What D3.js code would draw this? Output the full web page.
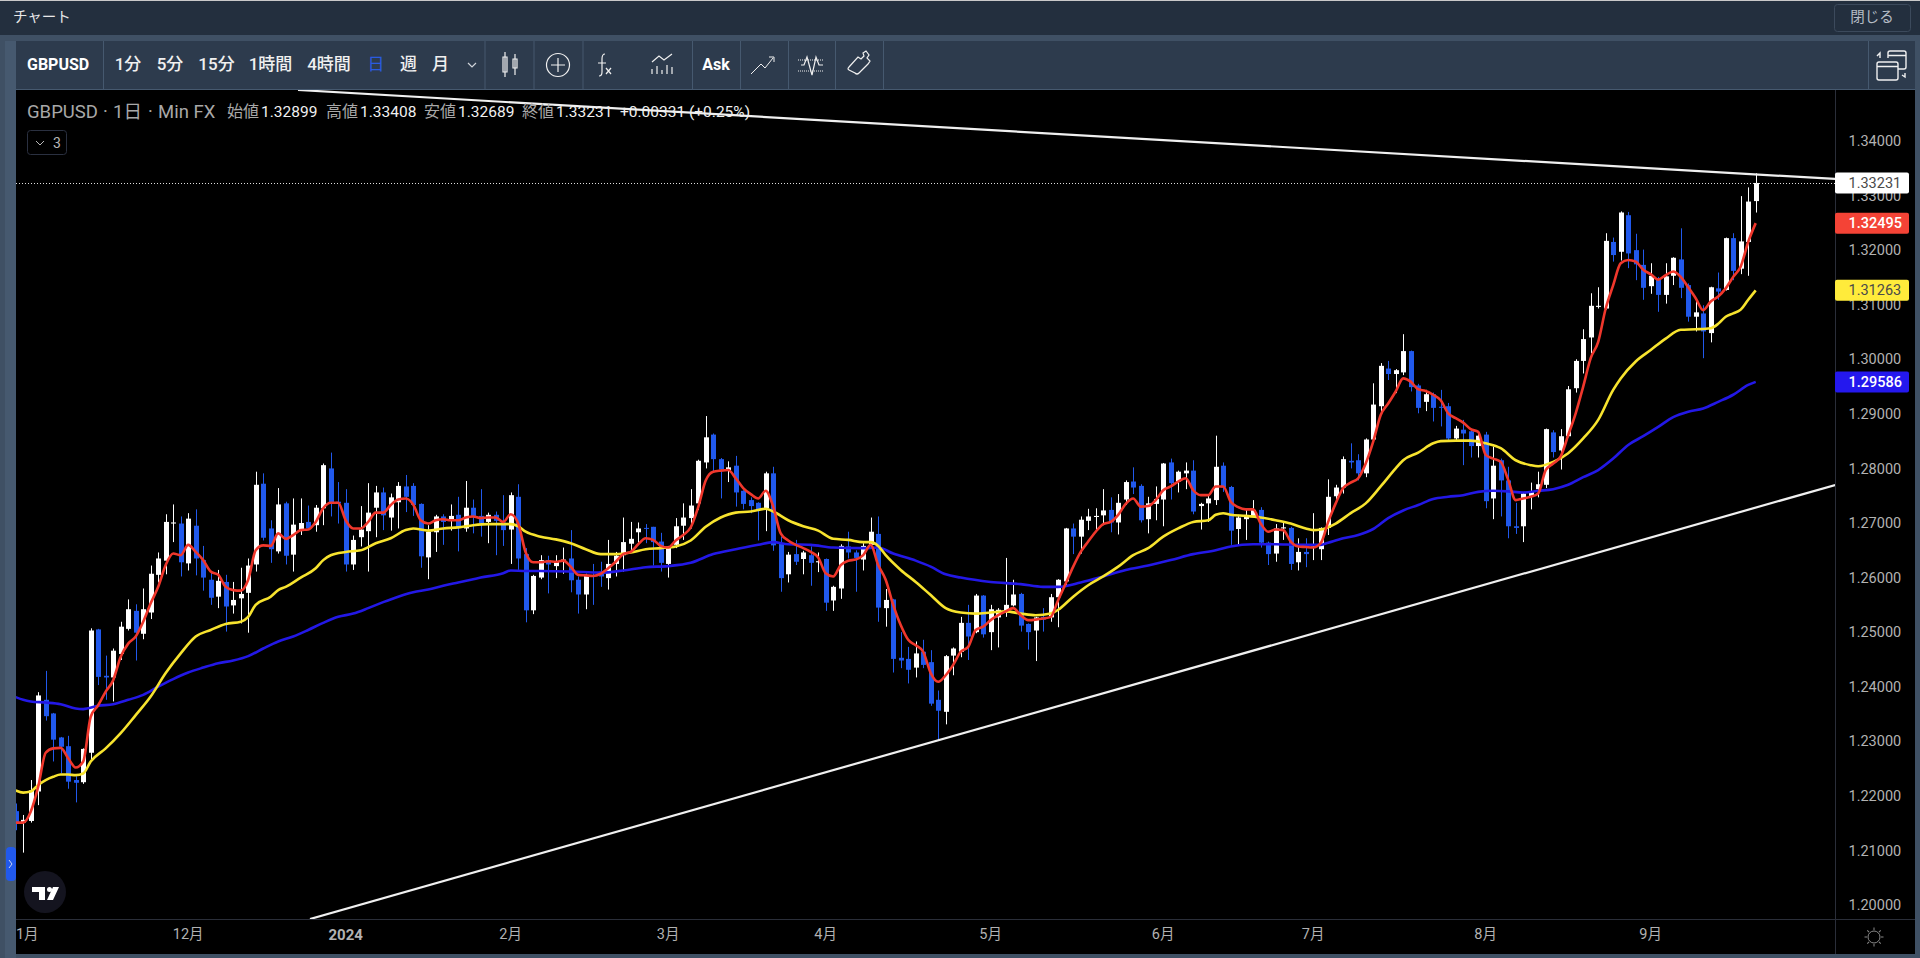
<!DOCTYPE html>
<html>
<head>
<meta charset="utf-8">
<title>GBPUSD</title>
<script src="https://cdn.jsdelivr.net/npm/d3@7"></script>
<style>
html, body { margin: 0; padding: 0; background: #232f3e; overflow: hidden; }
svg { display: block; }
text { font-family: Roboto, "Noto Sans CJK JP", sans-serif; }
</style>
</head>
<body>
<div id="viz"></div>
<script>
// candles, oldest first
var opens = [
1.2172,1.2151,1.2154,1.2208,1.2376,1.2351,1.2307,1.2291,1.2229,1.2225,
1.2279,1.2505,1.2420,1.2417,1.2460,1.2506,1.2539,1.2497,1.2536,1.2605,
1.2631,1.2699,1.2699,1.2626,1.2695,1.2632,1.2596,1.2565,1.2592,1.2549,
1.2562,1.2572,1.2624,1.2772,1.2690,1.2648,1.2736,1.2642,1.2687,1.2702,
1.2696,1.2727,1.2800,1.2739,1.2737,1.2624,1.2674,1.2685,1.2728,1.2756,
1.2710,1.2738,1.2767,1.2768,1.2735,1.2637,1.2683,1.2712,1.2706,1.2715,
1.2690,1.2728,1.2713,1.2702,1.2715,1.2701,1.2688,1.2748,1.2643,1.2540,
1.2600,1.2632,1.2621,1.2630,1.2635,1.2596,1.2569,1.2605,1.2611,1.2599,
1.2625,1.2641,1.2662,1.2683,1.2691,1.2693,1.2666,1.2625,1.2660,1.2695,
1.2709,1.2736,1.2811,1.2862,1.2817,1.2797,1.2805,1.2759,1.2742,1.2737,
1.2727,1.2791,1.2663,1.2606,1.2643,1.2634,1.2641,1.2628,1.2634,1.2558,
1.2580,1.2657,1.2646,1.2633,1.2660,1.2680,1.2544,1.2560,1.2453,1.2451,
1.2435,1.2464,1.2445,1.2376,1.2354,1.2457,1.2464,1.2517,1.2500,1.2567,
1.2500,1.2527,1.2536,1.2549,1.2570,1.2515,1.2503,1.2528,1.2527,1.2564,
1.2593,1.2690,1.2675,1.2704,1.2711,1.2714,1.2724,1.2701,1.2743,1.2776,
1.2768,1.2707,1.2735,1.2743,1.2811,1.2776,1.2791,1.2796,1.2731,1.2736,
1.2742,1.2805,1.2766,1.2689,1.2707,1.2713,1.2724,1.2664,1.2644,1.2690,
1.2691,1.2628,1.2647,1.2657,1.2652,1.2691,1.2749,1.2765,1.2814,1.2815,
1.2791,1.2853,1.2914,1.2983,1.2973,1.2976,1.3015,1.2952,1.2922,1.2936,
1.2913,1.2914,1.2855,1.2871,1.2868,1.2841,1.2862,1.2745,1.2815,1.2778,
1.2694,1.2694,1.2749,1.2762,1.2770,1.2866,1.2833,1.2859,1.2947,1.2997,
1.3040,1.3096,1.3093,1.3215,1.3197,1.3264,1.3200,1.3173,1.3134,1.3148,
1.3118,1.3153,1.3183,1.3136,1.3078,1.3084,1.3048,1.3130,1.3127,1.3222,
1.3166,1.3215,1.32899];
var highs = [
1.2186,1.2165,1.2229,1.2390,1.2429,1.2352,1.2308,1.2310,1.2236,1.2287,
1.2507,1.2506,1.2457,1.2470,1.2519,1.2560,1.2551,1.2580,1.2622,1.2646,
1.2716,1.2734,1.2712,1.2718,1.2725,1.2658,1.2611,1.2614,1.2605,1.2592,
1.2618,1.2635,1.2794,1.2791,1.2705,1.2764,1.2739,1.2745,1.2745,1.2732,
1.2733,1.2809,1.2829,1.2775,1.2762,1.2677,1.2731,1.2773,1.2768,1.2765,
1.2754,1.2775,1.2788,1.2773,1.2736,1.2696,1.2715,1.2716,1.2734,1.2748,
1.2777,1.2743,1.2762,1.2719,1.2721,1.2751,1.2756,1.2771,1.2654,1.2605,
1.2641,1.2640,1.2641,1.2655,1.2687,1.2602,1.2607,1.2625,1.2629,1.2669,
1.2647,1.2710,1.2702,1.2701,1.2698,1.2693,1.2682,1.2658,1.2709,1.2736,
1.2762,1.2816,1.2896,1.2864,1.2819,1.2813,1.2823,1.2760,1.2747,1.2738,
1.2794,1.2803,1.2675,1.2647,1.2669,1.2649,1.2657,1.2646,1.2635,1.2585,
1.2661,1.2684,1.2650,1.2663,1.2710,1.2712,1.2579,1.2561,1.2500,1.2473,
1.2483,1.2486,1.2467,1.2393,1.2458,1.2472,1.2528,1.2550,1.2570,1.2568,
1.2550,1.2544,1.2636,1.2596,1.2572,1.2516,1.2528,1.2544,1.2570,1.2597,
1.2691,1.2699,1.2712,1.2726,1.2727,1.2762,1.2747,1.2753,1.2778,1.2802,
1.2771,1.2748,1.2767,1.2810,1.2818,1.2796,1.2811,1.2815,1.2737,1.2753,
1.2860,1.2811,1.2768,1.2715,1.2727,1.2742,1.2729,1.2666,1.2698,1.2702,
1.2693,1.2672,1.2672,1.2718,1.2692,1.2780,1.2770,1.2822,1.2846,1.2826,
1.2855,1.2956,1.2993,1.2997,1.2982,1.3046,1.3016,1.2955,1.2944,1.2939,
1.2944,1.2920,1.2878,1.2889,1.2870,1.2867,1.2867,1.2840,1.2818,1.2803,
1.2737,1.2756,1.2774,1.2794,1.2873,1.2870,1.2872,1.2951,1.3000,1.3055,
1.3121,1.3132,1.3231,1.3223,1.3271,1.3270,1.3230,1.3201,1.3176,1.3151,
1.3176,1.3187,1.3240,1.3139,1.3112,1.3099,1.3133,1.3159,1.3223,1.3231,
1.3299,1.3315,1.33408];
var lows = [
1.2137,1.2096,1.2151,1.2183,1.2338,1.2263,1.2241,1.2213,1.2188,1.2222,
1.2263,1.2403,1.2376,1.2373,1.2449,1.2503,1.2448,1.2487,1.2524,1.2591,
1.2606,1.2665,1.2602,1.2613,1.2604,1.2576,1.2550,1.2544,1.2501,1.2534,
1.2516,1.2499,1.2611,1.2668,1.2627,1.2644,1.2624,1.2611,1.2678,1.2687,
1.2684,1.2696,1.2712,1.2699,1.2611,1.2614,1.2657,1.2611,1.2674,1.2687,
1.2686,1.2690,1.2720,1.2713,1.2618,1.2597,1.2647,1.2660,1.2686,1.2648,
1.2684,1.2681,1.2675,1.2663,1.2641,1.2658,1.2625,1.2614,1.2518,1.2533,
1.2597,1.2571,1.2599,1.2607,1.2573,1.2534,1.2542,1.2550,1.2583,1.2578,
1.2602,1.2611,1.2646,1.2664,1.2663,1.2622,1.2611,1.2600,1.2654,1.2669,
1.2690,1.2724,1.2800,1.2794,1.2745,1.2775,1.2730,1.2725,1.2718,1.2668,
1.2685,1.2649,1.2574,1.2591,1.2623,1.2606,1.2585,1.2610,1.2539,1.2539,
1.2561,1.2635,1.2574,1.2613,1.2658,1.2519,1.2510,1.2426,1.2434,1.2406,
1.2417,1.2434,1.2365,1.2302,1.2331,1.2421,1.2454,1.2449,1.2498,1.2490,
1.2467,1.2472,1.2528,1.2547,1.2501,1.2468,1.2447,1.2501,1.2519,1.2509,
1.2585,1.2643,1.2644,1.2687,1.2687,1.2696,1.2683,1.2679,1.2733,1.2753,
1.2701,1.2681,1.2705,1.2694,1.2743,1.2756,1.2762,1.2716,1.2688,1.2702,
1.2733,1.2757,1.2660,1.2658,1.2669,1.2712,1.2655,1.2623,1.2629,1.2669,
1.2614,1.2613,1.2619,1.2632,1.2632,1.2678,1.2742,1.2754,1.2800,1.2778,
1.2784,1.2852,1.2901,1.2962,1.2938,1.2971,1.2941,1.2901,1.2905,1.2886,
1.2877,1.2849,1.2851,1.2806,1.2820,1.2820,1.2727,1.2707,1.2712,1.2672,
1.2680,1.2665,1.2725,1.2747,1.2764,1.2820,1.2798,1.2857,1.2939,1.2974,
1.3011,1.3093,1.3091,1.3179,1.3181,1.3167,1.3145,1.3109,1.3120,1.3087,
1.3102,1.3136,1.3112,1.3069,1.3051,1.3002,1.3031,1.3109,1.3126,1.3145,
1.3156,1.3153,1.32689];
var closes = [
1.2151,1.2156,1.2210,1.2384,1.2346,1.2303,1.2290,1.2226,1.2224,1.2286,
1.2503,1.2418,1.2417,1.2466,1.2510,1.2542,1.2499,1.2542,1.2607,1.2635,
1.2702,1.2701,1.2628,1.2708,1.2635,1.2600,1.2563,1.2594,1.2547,1.2559,
1.2570,1.2622,1.2770,1.2673,1.2652,1.2734,1.2640,1.2697,1.2700,1.2690,
1.2728,1.2806,1.2735,1.2736,1.2624,1.2669,1.2688,1.2719,1.2756,1.2714,
1.2747,1.2768,1.2748,1.2733,1.2639,1.2684,1.2712,1.2702,1.2713,1.2692,
1.2728,1.2713,1.2699,1.2715,1.2704,1.2687,1.2751,1.2635,1.2540,1.2603,
1.2632,1.2624,1.2630,1.2633,1.2595,1.2569,1.2604,1.2603,1.2602,1.2625,
1.2640,1.2665,1.2671,1.2690,1.2690,1.2665,1.2627,1.2654,1.2694,1.2710,
1.2732,1.2814,1.2857,1.2817,1.2798,1.2802,1.2756,1.2735,1.2731,1.2725,
1.2791,1.2659,1.2599,1.2642,1.2629,1.2646,1.2627,1.2630,1.2554,1.2583,
1.2658,1.2646,1.2636,1.2658,1.2684,1.2545,1.2559,1.2451,1.2448,1.2431,
1.2461,1.2440,1.2369,1.2356,1.2456,1.2470,1.2517,1.2492,1.2567,1.2496,
1.2542,1.2541,1.2550,1.2569,1.2512,1.2500,1.2527,1.2523,1.2564,1.2596,
1.2690,1.2675,1.2706,1.2712,1.2713,1.2723,1.2701,1.2737,1.2775,1.2765,
1.2705,1.2736,1.2744,1.2809,1.2773,1.2794,1.2796,1.2721,1.2735,1.2745,
1.2803,1.2765,1.2686,1.2710,1.2714,1.2724,1.2664,1.2643,1.2690,1.2692,
1.2625,1.2647,1.2643,1.2661,1.2691,1.2748,1.2765,1.2817,1.2811,1.2791,
1.2853,1.2917,1.2988,1.2973,1.2980,1.3015,1.2949,1.2911,1.2936,1.2911,
1.2911,1.2855,1.2873,1.2864,1.2841,1.2860,1.2740,1.2805,1.2778,1.2694,
1.2691,1.2754,1.2757,1.2771,1.2872,1.2830,1.2859,1.2945,1.2997,1.3037,
1.3098,1.3098,1.3217,1.3191,1.3269,1.3194,1.3174,1.3131,1.3153,1.3118,
1.3152,1.3186,1.3131,1.3078,1.3086,1.3051,1.3132,1.3124,1.3222,1.3162,
1.3216,1.3289,1.33231];

// red short average, one reading per candle
var redMA = [
1.2151,1.2151,1.2171,1.2217,1.2279,1.2287,1.2288,1.2269,1.2252,1.2263,
1.2345,1.2366,1.2391,1.2412,1.2455,1.2479,1.2492,1.2519,1.2553,1.2583,
1.2623,1.2644,1.2641,1.2660,1.2647,1.2632,1.2611,1.2605,1.2583,1.2577,
1.2576,1.2596,1.2650,1.2659,1.2658,1.2681,1.2671,1.2678,1.2687,1.2688,
1.2702,1.2727,1.2737,1.2737,1.2705,1.2690,1.2690,1.2702,1.2719,1.2719,
1.2733,1.2743,1.2745,1.2734,1.2705,1.2699,1.2705,1.2707,1.2705,1.2705,
1.2710,1.2712,1.2709,1.2710,1.2710,1.2702,1.2716,1.2699,1.2646,1.2628,
1.2628,1.2630,1.2629,1.2631,1.2620,1.2605,1.2604,1.2603,1.2607,1.2617,
1.2629,1.2643,1.2647,1.2661,1.2672,1.2669,1.2658,1.2655,1.2668,1.2678,
1.2692,1.2729,1.2778,1.2794,1.2796,1.2797,1.2782,1.2764,1.2753,1.2745,
1.2759,1.2730,1.2681,1.2668,1.2660,1.2654,1.2647,1.2637,1.2608,1.2602,
1.2623,1.2631,1.2633,1.2641,1.2660,1.2623,1.2596,1.2550,1.2513,1.2486,
1.2476,1.2464,1.2425,1.2409,1.2421,1.2440,1.2464,1.2473,1.2504,1.2510,
1.2522,1.2531,1.2538,1.2544,1.2531,1.2522,1.2523,1.2525,1.2528,1.2559,
1.2589,1.2620,1.2647,1.2666,1.2684,1.2698,1.2702,1.2715,1.2735,1.2745,
1.2730,1.2731,1.2742,1.2760,1.2767,1.2776,1.2782,1.2760,1.2751,1.2751,
1.2767,1.2767,1.2739,1.2729,1.2725,1.2725,1.2699,1.2684,1.2688,1.2687,
1.2666,1.2657,1.2656,1.2655,1.2663,1.2702,1.2736,1.2764,1.2774,1.2782,
1.2809,1.2849,1.2898,1.2919,1.2941,1.2965,1.2959,1.2945,1.2942,1.2935,
1.2925,1.2901,1.2892,1.2884,1.2872,1.2867,1.2825,1.2818,1.2812,1.2779,
1.2742,1.2745,1.2748,1.2754,1.2797,1.2809,1.2822,1.2861,1.2901,1.2950,
1.3002,1.3032,1.3093,1.3136,1.3176,1.3182,1.3179,1.3164,1.3156,1.3146,
1.3154,1.3161,1.3151,1.3132,1.3112,1.3090,1.3106,1.3115,1.3130,1.3151,
1.3170,1.3215,1.32495];

// yellow and blue averages, read at the candles listed
var yellowIdx = [0,1,2,3,4,5,6,7,8,9,10,12,14,16,18,20,22,24,26,28,30,31,32,34,35,36,38,40,41,42,44,46,48,50,52,53,55,57,59,61,
63,66,67,68,70,72,74,76,78,80,82,84,86,88,90,92,94,96,98,100,101,103,105,107,109,111,113,114,115,116,118,120,122,124,126,128,130,132,134,136,138,139,
141,143,145,147,149,151,153,155,157,159,160,161,162,164,166,168,170,172,173,174,176,178,180,182,184,185,187,189,190,192,194,196,198,200,202,203,205,207,209,211,213,214,216,218,220,222,224,226,227,228,229,230,231,232];
var yellowMA = [1.2210,1.2206,1.2208,1.2220,1.2229,1.2235,1.2239,1.2239,1.2238,1.2241,1.2263,1.2287,1.2315,1.2348,1.2382,1.2425,1.2461,1.2492,1.2504,1.2515,1.2519,1.2528,1.2550,1.2565,1.2577,1.2583,1.2600,1.2617,1.2632,1.2641,1.2647,1.2650,1.2663,1.2672,1.2687,1.2690,1.2686,1.2690,1.2692,1.2696,
1.2698,1.2698,1.2694,1.2684,1.2675,1.2670,1.2663,1.2652,1.2643,1.2643,1.2646,1.2652,1.2654,1.2657,1.2668,1.2693,1.2710,1.2719,1.2721,1.2726,1.2721,1.2705,1.2694,1.2686,1.2671,1.2669,1.2665,1.2665,1.2658,1.2641,1.2614,1.2592,1.2568,1.2544,1.2536,1.2534,1.2536,1.2538,1.2534,1.2531,1.2534,1.2541,
1.2565,1.2586,1.2602,1.2620,1.2641,1.2654,1.2675,1.2690,1.2702,1.2705,1.2715,1.2718,1.2715,1.2713,1.2710,1.2705,1.2699,1.2690,1.2687,1.2688,1.2699,1.2718,1.2736,1.2767,1.2800,1.2815,1.2829,1.2846,1.2850,1.2851,1.2851,1.2846,1.2837,1.2815,1.2806,1.2804,1.2812,1.2828,1.2855,1.2889,1.2944,1.2965,1.2996,1.3017,1.3038,1.3054,1.3055,1.3057,1.3065,1.3078,1.3084,1.3091,1.3109,1.31263];
var blueIdx = [0,1,2,4,6,8,9,11,13,15,17,19,21,23,25,27,29,31,33,35,37,39,41,43,45,47,49,51,53,55,57,59,61,
62,65,66,68,70,74,78,81,84,87,90,93,96,99,101,103,106,109,113,115,117,120,122,124,126,130,134,137,139,
142,145,148,151,154,157,160,162,165,168,171,172,174,175,177,179,181,183,185,187,189,191,193,195,197,199,201,203,205,207,209,211,213,215,217,219,221,223,225,227,229,231,232];
var blueMA = [1.2381,1.2376,1.2373,1.2371,1.2368,1.2360,1.2359,1.2365,1.2368,1.2376,1.2385,1.2400,1.2414,1.2426,1.2435,1.2443,1.2448,1.2456,1.2470,1.2483,1.2492,1.2504,1.2517,1.2528,1.2534,1.2544,1.2555,1.2565,1.2573,1.2578,1.2585,1.2591,1.2597,
1.2600,1.2608,1.2613,1.2612,1.2612,1.2611,1.2609,1.2613,1.2619,1.2621,1.2627,1.2643,1.2652,1.2660,1.2665,1.2661,1.2660,1.2655,1.2654,1.2655,1.2644,1.2631,1.2620,1.2606,1.2600,1.2592,1.2588,1.2583,1.2583,
1.2591,1.2602,1.2614,1.2622,1.2632,1.2643,1.2650,1.2657,1.2661,1.2661,1.2660,1.2660,1.2660,1.2664,1.2672,1.2678,1.2689,1.2709,1.2723,1.2733,1.2744,1.2748,1.2751,1.2757,1.2759,1.2758,1.2756,1.2759,1.2762,1.2770,1.2784,1.2797,1.2818,1.2843,1.2859,1.2876,1.2894,1.2904,1.2910,1.2922,1.2935,1.2953,1.29586];

// hand drawn trend lines, [candle, price]
var lowerTrend = [[39.24, 1.19743], [242.6, 1.27697]];
var upperTrend = [[37.64, 1.34935], [242.6, 1.33304]];

var priceTicks = [1.20,1.21,1.22,1.23,1.24,1.25,1.26,1.27,1.28,1.29,1.30,1.31,1.32,1.33,1.34];
var monthIdx = [1,23,44,66,87,108,130,153,173,196,218];
var monthLabels = ["11月","12月","2024","2月","3月","4月","5月","6月","7月","8月","9月"];

var intervals = ["1分","5分","15分","1時間","4時間","日","週","月"];
var intervalX = [128,170,216.5,270.5,329,376,408.5,440.5];
var sepX = [103,484.5,533.5,582.5,692,740,788,835,883,1868];

var legendTitle = ["GBPUSD","·","1日","·","Min FX"];
var legendTitleX = [27,103,113,148,158];
var ohlcNames = ["始値","高値","安値","終値"];
var ohlcNameX = [227,326,424,522];
var ohlcValues = ["1.32899","1.33408","1.32689","1.33231"];

var tags = [
  {v: closes[closes.length - 1], fill: "#ffffff", text: "#4a4a4a", weight: "normal", label: "1.33231"},
  {v: redMA[redMA.length - 1], fill: "#f44336", text: "#ffffff", weight: 500, label: "1.32495"},
  {v: yellowMA[yellowMA.length - 1], fill: "#ffeb3b", text: "#4a4a4a", weight: "normal", label: "1.31263"},
  {v: blueMA[blueMA.length - 1], fill: "#2418ee", text: "#ffffff", weight: 500, label: "1.29586"}
];

var width = 1920, height = 958;
var plot = {left: 16, right: 1835, top: 90, bottom: 919};

var svg = d3.select("#viz").append("svg")
    .attr("width", width)
    .attr("height", height);

var x = d3.scaleLinear().domain([0, 232]).range([15.7, 1755.7]);
var y = d3.scaleLinear().domain([1.20, 1.34]).range([905, 141]);

// window chrome
svg.append("rect").attr("width", width).attr("height", height).attr("fill", "#3f5064");
svg.append("rect").attr("width", width).attr("height", 35).attr("fill", "#232f3e");
svg.append("rect").attr("width", width).attr("height", 1).attr("fill", "#c9c9c9");
svg.append("rect").attr("x", 5).attr("y", 41).attr("width", 11).attr("height", height - 41).attr("fill", "#46596f");
svg.append("rect").attr("x", 16).attr("y", 41).attr("width", 1899).attr("height", 48).attr("fill", "#2d3b4d");
svg.append("rect").attr("x", 16).attr("y", 89).attr("width", 1899).attr("height", 1).attr("fill", "#46596f");
svg.append("rect").attr("x", plot.left).attr("y", plot.top).attr("width", 1899).attr("height", 864).attr("fill", "#000");

svg.append("text").attr("x", 13).attr("y", 22).attr("fill", "#e8e8e8").style("font-size", "14.5px").text("チャート");
svg.append("rect").attr("x", 1834.5).attr("y", 4.5).attr("width", 76).attr("height", 27).attr("rx", 3)
    .attr("fill", "none").attr("stroke", "#3c4a5c");
svg.append("text").attr("x", 1872).attr("y", 22).attr("text-anchor", "middle").attr("fill", "#b5bcc5")
    .style("font-size", "14.5px").text("閉じる");

svg.selectAll("line.sep").data(sepX).enter().append("line")
    .attr("class", "sep")
    .attr("x1", function(d) { return d + 0.5; })
    .attr("x2", function(d) { return d + 0.5; })
    .attr("y1", 41).attr("y2", 89)
    .attr("stroke", "#46596f");

svg.append("text").attr("x", 27).attr("y", 70).attr("fill", "#fff")
    .style("font-size", "16px").style("font-weight", "bold").text("GBPUSD");
svg.selectAll("text.interval").data(intervals).enter().append("text")
    .attr("class", "interval")
    .attr("x", function(d, i) { return intervalX[i]; })
    .attr("y", 70)
    .attr("text-anchor", "middle")
    .attr("fill", function(d) { return d === "日" ? "#2a5ce0" : "#f0f0f0"; })
    .style("font-size", "17px")
    .style("font-weight", function(d) { return d === "日" ? "normal" : 500; })
    .text(function(d) { return d; });
svg.append("path").attr("d", "M468 63l4 4l4 -4").attr("fill", "none").attr("stroke", "#d0d4da").attr("stroke-width", 1.2);
svg.append("text").attr("x", 716).attr("y", 70).attr("text-anchor", "middle").attr("fill", "#fff")
    .style("font-size", "16px").style("font-weight", "bold").text("Ask");

// toolbar icons
var icons = svg.append("g").attr("fill", "none").attr("stroke", "#f0f0f0").attr("stroke-width", 1.2);
icons.append("path").attr("d", "M505 52v25M503 57h4v15h-4zM515 54v21M513 59h4v9h-4z");
icons.append("circle").attr("cx", 558).attr("cy", 65).attr("r", 11.5);
icons.append("path").attr("d", "M558 58v14M551 65h14");
icons.append("path").attr("d", "M605 54c-3 0 -3 3 -3 5v13c0 3 -1 4 -3 4M598 63h8M606 68l5 6M611 68l-5 6");
icons.append("path").attr("d", "M652 62l7 -6l5 4l8 -6M652 74v-5M657 74v-8M662 74v-4M667 74v-9M672 74v-7");
icons.append("path").attr("d", "M751 74l10 -10l4 4l8 -10M769 57h5v5").attr("stroke-width", 1);
icons.append("path").attr("d", "M798 60h26M798 71h26").attr("stroke-dasharray", "1 1").attr("stroke-width", 1);
icons.append("path").attr("d", "M801 65h3l3 -8l5 18l4 -18l3 8h4");
icons.append("path").attr("d", "M849 67l9 -10l3 2l3 -3l-1 -3l3 -2l3 4l-2 3l3 3l-2 3l-9 9q-2 2 -4 0l-6 -3q-2 -1 0 -3z");
icons.append("path").attr("d", "M1879 62h17q2 0 2 2v14q0 2 -2 2h-17q-2 0 -2 -2v-14q0 -2 2 -2zM1877 66.5h21M1888 58v-5q0 -2 2 -2h14q2 0 2 2v14q0 2 -2 2h-6M1888 55.5h18M1877 56l3 -3v5M1905 73v4l-3 -2")
    .attr("stroke-width", 1.4);

// plot area
svg.append("clipPath").attr("id", "plotClip").append("rect")
    .attr("x", plot.left).attr("y", plot.top)
    .attr("width", plot.right - plot.left).attr("height", plot.bottom - plot.top);
var chart = svg.append("g").attr("clip-path", "url(#plotClip)");

var white = "#ffffff", blue = "#2159ec";
function candleColor(i) { return closes[i] >= opens[i] ? white : blue; }

var candles = chart.selectAll("g.candle").data(d3.range(opens.length)).enter().append("g")
    .attr("class", "candle");
candles.append("line")
    .attr("x1", function(i) { return Math.round(x(i)) + 0.5; })
    .attr("x2", function(i) { return Math.round(x(i)) + 0.5; })
    .attr("y1", function(i) { return y(highs[i]); })
    .attr("y2", function(i) { return y(lows[i]); })
    .attr("stroke", candleColor);
candles.append("rect")
    .attr("x", function(i) { return Math.round(x(i)) - 2; })
    .attr("width", 5)
    .attr("y", function(i) { return y(Math.max(opens[i], closes[i])); })
    .attr("height", function(i) { return Math.max(1, Math.abs(y(opens[i]) - y(closes[i]))); })
    .attr("fill", candleColor);

var maLine = d3.line().curve(d3.curveMonotoneX)
    .x(function(d) { return x(d[0]); })
    .y(function(d) { return y(d[1]); });

chart.append("path").datum(d3.zip(blueIdx, blueMA))
    .attr("fill", "none").attr("stroke", "#2318e6").attr("stroke-width", 2.6).attr("d", maLine);
chart.append("path").datum(d3.zip(yellowIdx, yellowMA))
    .attr("fill", "none").attr("stroke", "#f7e32e").attr("stroke-width", 2.6).attr("d", maLine);
chart.append("path").datum(d3.zip(d3.range(redMA.length), redMA))
    .attr("fill", "none").attr("stroke", "#f0372c").attr("stroke-width", 2.6).attr("d", maLine);

// trend lines
var trend = d3.line().x(function(d) { return x(d[0]); }).y(function(d) { return y(d[1]); });
[lowerTrend, upperTrend].forEach(function(t) {
    chart.append("path").datum(t)
        .attr("fill", "none").attr("stroke", "#f0f0f0").attr("stroke-width", 2.2).attr("d", trend);
});

// last price dotted line
chart.append("line")
    .attr("x1", plot.left).attr("x2", plot.right)
    .attr("y1", Math.round(y(closes[closes.length - 1])) + 0.5)
    .attr("y2", Math.round(y(closes[closes.length - 1])) + 0.5)
    .attr("stroke", "#e0e0e0").attr("stroke-dasharray", "1 2");

// axes
var yAxis = d3.axisRight(y)
    .tickValues(priceTicks)
    .tickFormat(d3.format(".5f"))
    .tickSize(0)
    .tickPadding(13.5);
var yG = svg.append("g").attr("transform", "translate(" + plot.right + ",0)").call(yAxis);
yG.select(".domain").remove();
yG.selectAll("text").attr("fill", "#b2b2b2").style("font-size", "14.5px").style("font-family", "Roboto");

var xAxis = d3.axisBottom(x)
    .tickValues(monthIdx)
    .tickFormat(function(d, i) { return monthLabels[i]; })
    .tickSize(0)
    .tickPadding(10);
svg.append("clipPath").attr("id", "timeClip").append("rect")
    .attr("x", plot.left).attr("y", plot.bottom).attr("width", plot.right - plot.left).attr("height", 36);
var xG = svg.append("g")
    .attr("clip-path", "url(#timeClip)")
    .call(xAxis);
xG.selectAll(".tick").attr("transform", function(d) {
    return "translate(" + x(d) + "," + plot.bottom + ")";
});
xG.select(".domain").remove();
xG.selectAll("text")
    .attr("fill", "#b2b2b2")
    .style("font-size", function(d, i) { return monthLabels[i] === "2024" ? "15px" : "14.5px"; })
    .style("font-weight", function(d, i) { return monthLabels[i] === "2024" ? "bold" : "normal"; });

svg.append("line").attr("x1", plot.left).attr("x2", 1915).attr("y1", plot.bottom + 0.5).attr("y2", plot.bottom + 0.5).attr("stroke", "#2a2e39");
svg.append("line").attr("x1", plot.right + 0.5).attr("x2", plot.right + 0.5).attr("y1", plot.top).attr("y2", 954).attr("stroke", "#2a2e39");

// sun icon in the axis corner
var sun = svg.append("g").attr("transform", "translate(1874,937)").attr("fill", "none").attr("stroke", "#8a8a8a");
sun.append("circle").attr("r", 6);
sun.selectAll("line").data(d3.range(8)).enter().append("line")
    .attr("y1", -7).attr("y2", -9.5)
    .attr("transform", function(d) { return "rotate(" + d * 45 + ")"; });

// price tags on the axis
var tag = svg.selectAll("g.tag").data(tags).enter().append("g").attr("class", "tag")
    .attr("transform", function(d) { return "translate(" + plot.right + "," + y(d.v) + ")"; });
tag.append("rect")
    .attr("y", -10.5).attr("width", 74).attr("height", 21).attr("rx", 2)
    .attr("fill", function(d) { return d.fill; });
tag.append("text")
    .attr("x", 13.5).attr("dy", "0.35em")
    .attr("fill", function(d) { return d.text; })
    .style("font-size", "14.5px")
    .style("font-weight", function(d) { return d.weight; })
    .text(function(d) { return d.label; });

// legend over the chart
var legend = svg.append("g");
legend.selectAll("text.title").data(legendTitle).enter().append("text")
    .attr("class", "title")
    .attr("x", function(d, i) { return legendTitleX[i]; })
    .attr("y", 118)
    .attr("fill", "#a8a8a8")
    .style("font-size", "18.5px")
    .text(function(d) { return d; });
legend.selectAll("text.name").data(ohlcNames).enter().append("text")
    .attr("class", "name")
    .attr("x", function(d, i) { return ohlcNameX[i]; })
    .attr("y", 117)
    .attr("fill", "#a8a8a8")
    .style("font-size", "16px")
    .text(function(d) { return d; });
legend.selectAll("text.value").data(ohlcValues).enter().append("text")
    .attr("class", "value")
    .attr("x", function(d, i) { return ohlcNameX[i] + 34; })
    .attr("y", 117)
    .attr("fill", "#f0f0f0")
    .style("font-size", "15.5px")
    .text(function(d) { return d; });
legend.append("text").attr("x", 620).attr("y", 117).attr("fill", "#f0f0f0").style("font-size", "15.5px")
    .text("+0.00331 (+0.25%)");

legend.append("rect").attr("x", 27.5).attr("y", 130.5).attr("width", 39).attr("height", 24).attr("rx", 3)
    .attr("fill", "none").attr("stroke", "#2a3040");
legend.append("path").attr("d", "M36 141l4 4l4 -4").attr("fill", "none").attr("stroke", "#b8b8b8");
legend.append("text").attr("x", 53).attr("y", 148).attr("fill", "#b8b8b8").style("font-size", "14px").text("3");

// side tab and logo
svg.append("rect").attr("x", 6).attr("y", 847).attr("width", 10).attr("height", 34).attr("rx", 4).attr("fill", "#2159ec");
svg.append("path").attr("d", "M9 860l3 4l-3 4").attr("fill", "none").attr("stroke", "#c8d4f4");
svg.append("circle").attr("cx", 45).attr("cy", 892).attr("r", 21).attr("fill", "#14141f");
svg.append("path").attr("fill", "#fff")
    .attr("d", "M32 887h13v13h-6v-8h-7zM53 887h6l-6 13h-6z");
svg.append("circle").attr("cx", 49.5).attr("cy", 889.5).attr("r", 2.5).attr("fill", "#fff");
</script>
</body>
</html>
